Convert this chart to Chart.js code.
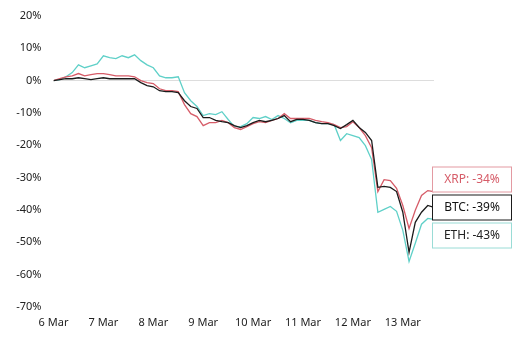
<!DOCTYPE html>
<html>
<head>
<meta charset="utf-8">
<script src="https://cdn.jsdelivr.net/npm/chart.js@4/dist/chart.umd.min.js"></script>
<style>
  html, body { margin: 0; padding: 0; background: #fff; }
  #wrap { width: 521px; height: 337px; }
</style>
</head>
<body>
<div id="wrap"><canvas id="c" width="521" height="337"></canvas></div>
<script>
// hours since 6 Mar 00:00
const hours = [0,3,6,9,12,15,18,21,24,27,30,33,36,39,42,45,48,51,54,57,60,63,66,69,72,75,78,81,84,87,90,93,96,99,102,105,108,111,114,117,120,123,126,129,132,135,138,141,144,147,150,153,156,159,162,165,168,171,174,177,180,183];
const dateLabels = ['6 Mar','7 Mar','8 Mar','9 Mar','10 Mar','11 Mar','12 Mar','13 Mar'];
const yTicks = [20,10,0,-10,-20,-30,-40,-50,-60,-70];

const btc = [0,0.3,0.6,0.6,0.9,0.6,0.3,0.6,0.9,0.6,0.6,0.6,0.6,0.6,-0.6,-1.5,-1.9,-3.1,-3.4,-3.4,-3.7,-6.2,-8.0,-8.6,-11.4,-11.4,-12.3,-12.7,-13.0,-13.9,-14.5,-13.9,-13.0,-12.3,-12.7,-12.3,-11.7,-10.8,-12.7,-12.0,-12.0,-12.3,-13.0,-13.3,-13.3,-13.9,-14.8,-13.6,-12.3,-14.5,-16.0,-18.5,-33.0,-32.7,-33.0,-34.3,-40.7,-53.1,-43.8,-40.7,-38.6,-39.2];
const xrp = [0,0.6,1.2,1.5,2.2,1.5,1.9,2.2,2.2,1.9,1.5,1.5,1.5,1.2,0,-0.6,-0.9,-2.5,-3.1,-3.1,-3.4,-7.4,-10.2,-11.1,-13.9,-13.0,-13.0,-12.3,-13.0,-14.5,-15.1,-14.2,-13.3,-12.7,-13.0,-12.3,-11.7,-10.2,-11.7,-11.7,-11.7,-11.7,-12.3,-12.7,-13.0,-13.6,-14.5,-14.2,-12.7,-14.5,-17.0,-20.7,-34.3,-30.6,-30.9,-33.3,-38.6,-45.7,-40.1,-35.5,-34.0,-34.3];
const eth = [0,0.3,1.2,2.5,4.9,4.0,4.6,5.2,7.7,7.1,6.8,7.7,7.1,8.0,6.2,4.9,4.0,1.5,0.9,0.9,1.2,-3.7,-6.2,-8.0,-10.8,-10.2,-10.5,-9.6,-12.0,-14.2,-14.2,-13.3,-11.4,-11.7,-11.1,-12.0,-10.8,-11.7,-13.0,-12.3,-12.3,-12.3,-13.0,-13.3,-13.3,-13.6,-18.5,-16.4,-17.0,-17.6,-20.1,-24.4,-40.7,-39.8,-38.9,-40.4,-46.3,-55.9,-50.3,-44.4,-42.6,-42.9];

const seriesNames = ['BTC','XRP','ETH'];
const lineColors = ['#1b1b1b','#d65c68','#5fd0c8'];
const boxBorders = ['#1b1b1b','#e39aa2','#9adcd6'];
const boxText = ['#111111','#d65c68','#222222'];

const pts = arr => arr.map((v, i) => ({x: hours[i], y: v}));

const endBoxes = {
  id: 'endBoxes',
  afterDraw(chart) {
    const ctx = chart.ctx;
    const ys = chart.scales.y;
    const area = chart.chartArea;
    const data = [btc, xrp, eth];
    const center = ys.getPixelForValue(btc[btc.length - 1]);
    const offsets = [0, -28, 28];
    const w = 79, h = 25;
    const x0 = Math.round(area.right) - 1.5;
    ctx.save();
    ctx.font = '12px "Noto Sans", "Open Sans", sans-serif';
    ctx.textAlign = 'center';
    ctx.textBaseline = 'middle';
    for (let k = 0; k < 3; k++) {
      const cy = Math.round(center + offsets[k]);
      const y0 = cy - h / 2 + 0.5;
      ctx.fillStyle = '#fff';
      ctx.fillRect(x0, y0, w, h);
      ctx.strokeStyle = boxBorders[k];
      ctx.lineWidth = 1;
      ctx.strokeRect(x0, y0, w, h);
      ctx.fillStyle = boxText[k];
      const val = Math.round(data[k][data[k].length - 1]);
      ctx.fillText(seriesNames[k] + ': ' + val + '%', x0 + w / 2, cy + 1);
    }
    ctx.restore();
  }
};

new Chart(document.getElementById('c'), {
  type: 'line',
  data: {
    datasets: [btc, xrp, eth].map((arr, k) => ({
      label: seriesNames[k],
      data: pts(arr),
      borderColor: lineColors[k],
      backgroundColor: lineColors[k],
      borderWidth: 1.3,
      pointRadius: 0,
      tension: 0,
      fill: false
    }))
  },
  options: {
    responsive: false,
    animation: false,
    layout: { padding: { left: 0, right: 87, top: 16, bottom: 0 } },
    plugins: { legend: { display: false }, tooltip: { enabled: false } },
    scales: {
      x: {
        type: 'linear',
        min: 0,
        max: 183,
        afterBuildTicks: s => { s.ticks = dateLabels.map((d, i) => ({value: i * 24})); },
        afterFit: s => { s.height = 30; },
        ticks: {
          callback: v => dateLabels[v / 24],
          color: '#222',
          font: { family: '"Noto Sans", "Open Sans", sans-serif', size: 11 },
          padding: 9,
          maxRotation: 0,
          autoSkip: false
        },
        grid: { display: false, drawTicks: false },
        border: { display: false }
      },
      y: {
        min: -70,
        max: 20,
        afterBuildTicks: s => { s.ticks = yTicks.map(v => ({value: v})); },
        afterFit: s => { s.width = 53.5; s.paddingTop = 0; s.paddingBottom = 0; },
        ticks: {
          callback: v => v + '%',
          color: '#222',
          font: { family: '"Noto Sans", "Open Sans", sans-serif', size: 11 },
          padding: 12
        },
        grid: {
          drawTicks: false,
          color: c => (c.tick && c.tick.value === 0) ? '#dddddd' : 'rgba(0,0,0,0)',
          lineWidth: 1
        },
        border: { display: false }
      }
    }
  },
  plugins: [endBoxes]
});
</script>
</body>
</html>
